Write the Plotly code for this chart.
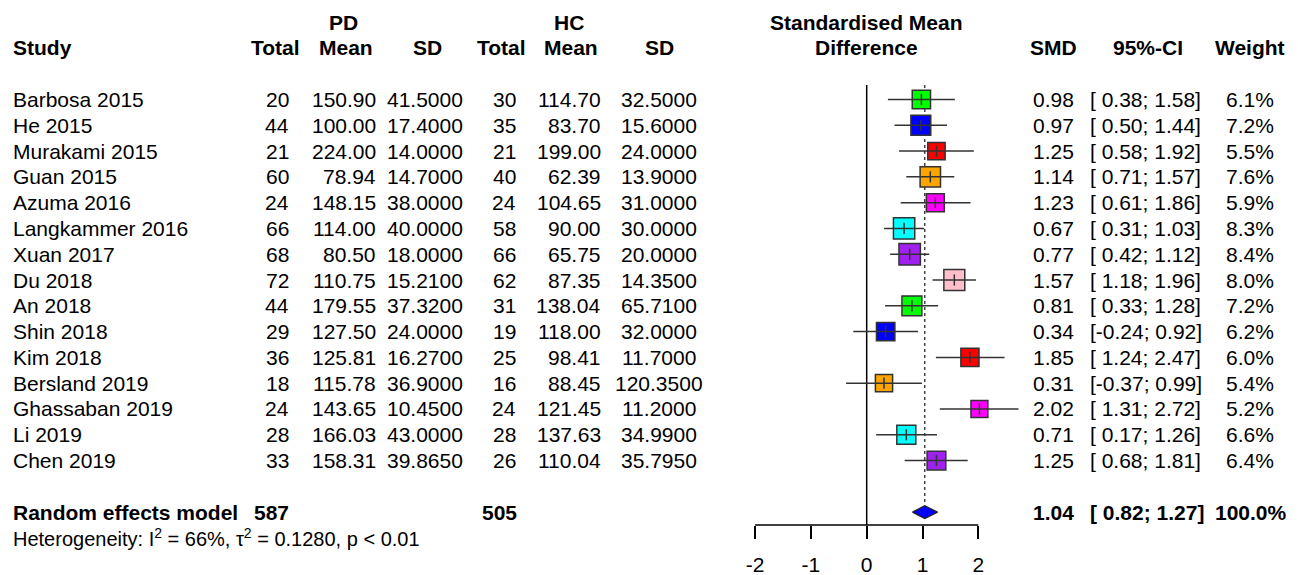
import plotly.graph_objects as go
import math

# ---------------- data ----------------
studies = ["Barbosa 2015", "He 2015", "Murakami 2015", "Guan 2015", "Azuma 2016",
           "Langkammer 2016", "Xuan 2017", "Du 2018", "An 2018", "Shin 2018",
           "Kim 2018", "Bersland 2019", "Ghassaban 2019", "Li 2019", "Chen 2019"]
pd_total = [20, 44, 21, 60, 24, 66, 68, 72, 44, 29, 36, 18, 24, 28, 33]
pd_mean = [150.90, 100.00, 224.00, 78.94, 148.15, 114.00, 80.50, 110.75, 179.55,
           127.50, 125.81, 115.78, 143.65, 166.03, 158.31]
pd_sd = [41.5, 17.4, 14.0, 14.7, 38.0, 40.0, 18.0, 15.21, 37.32, 24.0, 16.27,
         36.9, 10.45, 43.0, 39.865]
hc_total = [30, 35, 21, 40, 24, 58, 66, 62, 31, 19, 25, 16, 24, 28, 26]
hc_mean = [114.70, 83.70, 199.00, 62.39, 104.65, 90.00, 65.75, 87.35, 138.04,
           118.00, 98.41, 88.45, 121.45, 137.63, 110.04]
hc_sd = [32.5, 15.6, 24.0, 13.9, 31.0, 30.0, 20.0, 14.35, 65.71, 32.0, 11.7,
         120.35, 11.2, 34.99, 35.795]
smd = [0.98, 0.97, 1.25, 1.14, 1.23, 0.67, 0.77, 1.57, 0.81, 0.34, 1.85, 0.31,
       2.02, 0.71, 1.25]
ci_lo = [0.38, 0.50, 0.58, 0.71, 0.61, 0.31, 0.42, 1.18, 0.33, -0.24, 1.24,
         -0.37, 1.31, 0.17, 0.68]
ci_hi = [1.58, 1.44, 1.92, 1.57, 1.86, 1.03, 1.12, 1.96, 1.28, 0.92, 2.47, 0.99,
         2.72, 1.26, 1.81]
weight = [6.1, 7.2, 5.5, 7.6, 5.9, 8.3, 8.4, 8.0, 7.2, 6.2, 6.0, 5.4, 5.2, 6.6, 6.4]
box_colors = ["#00FF00", "#0000FF", "#FF0000", "#FFA500", "#FF00FF", "#00FFFF",
              "#A020F0", "#FFC0CB", "#00FF00", "#0000FF", "#FF0000", "#FFA500",
              "#FF00FF", "#00FFFF", "#A020F0"]

pooled_label = "Random effects model"
pooled_pd_total = 587
pooled_hc_total = 505
pooled_smd = 1.04
pooled_lo = 0.82
pooled_hi = 1.27
pooled_weight = 100.0
heterogeneity = "Heterogeneity: I<sup>2</sup> = 66%, \u03c4<sup>2</sup> = 0.1280, p < 0.01"

tick_vals = [-2, -1, 0, 1, 2]
tick_text = ["-2", "-1", "0", "1", "2"]

# ---------------- layout geometry ----------------
W, H = 1298, 575
FONT = "Liberation Sans, Arial, Helvetica, sans-serif"
FS = 21
x0_px, px_per_unit = 866.7, 55.8          # px position of SMD=0, px per unit
row0_px, row_px = 99.5, 25.79             # px of first study row, row spacing
axis_px = 525                             # px of the x axis line
x_range = [-x0_px / px_per_unit, (W - x0_px) / px_per_unit]
y_range = [(H - row0_px) / row_px, -row0_px / row_px]
axis_pos = (H - axis_px) / H              # paper y of the x axis line
axis_row = (axis_px - row0_px) / row_px

n = len(studies)
rows = list(range(n))
pooled_row = n + 1
het_row = n + 2


def px(xp):
    return xp / W


fig = go.Figure()

# reference lines
fig.add_trace(go.Scatter(x=[0, 0], y=[-0.56, axis_row],
                         mode="lines", line=dict(color="black", width=1.5),
                         hoverinfo="skip", showlegend=False))
fig.add_trace(go.Scatter(x=[pooled_smd, pooled_smd], y=[-0.56, pooled_row - 0.27],
                         mode="lines", line=dict(color="#444444", width=1.5, dash="dot"),
                         hoverinfo="skip", showlegend=False))

# boxes
fig.add_trace(go.Scatter(
    x=smd, y=rows, mode="markers",
    marker=dict(symbol="square", size=[7.4 * math.sqrt(w) for w in weight],
                color=box_colors, opacity=1, line=dict(color="#333333", width=1.5)),
    hoverinfo="skip", showlegend=False))

# confidence intervals
ci_x, ci_y = [], []
for lo, hi, r in zip(ci_lo, ci_hi, rows):
    ci_x += [lo, hi, None]
    ci_y += [r, r, None]
fig.add_trace(go.Scatter(x=ci_x, y=ci_y, mode="lines",
                         line=dict(color="#333333", width=1.5),
                         hoverinfo="skip", showlegend=False))
fig.add_trace(go.Scatter(x=smd, y=rows, mode="markers",
                         marker=dict(symbol="line-ns", size=8, opacity=1,
                                     line=dict(color="#333333", width=1.5)),
                         hoverinfo="skip", showlegend=False))

# diamond
dh = 0.25
fig.add_trace(go.Scatter(
    x=[pooled_lo, pooled_smd, pooled_hi, pooled_smd, pooled_lo],
    y=[pooled_row, pooled_row - dh, pooled_row, pooled_row + dh, pooled_row],
    mode="lines", fill="toself", fillcolor="#0000FF",
    line=dict(color="#222222", width=1.2), hoverinfo="skip", showlegend=False))

# ---------------- text ----------------
ann = []


def txt(x, y, s, anchor="center", bold=False, size=FS, xref="paper"):
    ann.append(dict(x=x, y=y, xref=xref, yref="y", text=("<b>%s</b>" % s) if bold else s,
                    showarrow=False, xanchor=anchor, yanchor="middle",
                    font=dict(family=FONT, size=size, color="black")))


# headers
txt(px(343), -3, "PD", bold=True)
txt(px(569), -3, "HC", bold=True)
txt(0, -3, "Standardised Mean", bold=True, xref="x")
txt(px(11), -2, "Study", anchor="left", bold=True)
txt(px(302), -2, "Total", anchor="right", bold=True)
txt(px(345.5), -2, "Mean", bold=True)
txt(px(427), -2, "SD", bold=True)
txt(px(527.5), -2, "Total", anchor="right", bold=True)
txt(px(571), -2, "Mean", bold=True)
txt(px(659), -2, "SD", bold=True)
txt(0, -2, "Difference", bold=True, xref="x")
txt(px(1053), -2, "SMD", bold=True)
txt(px(1148), -2, "95%-CI", bold=True)
txt(px(1250), -2, "Weight", bold=True)

for i in rows:
    txt(px(11), i, studies[i], anchor="left")
    txt(px(291), i, "%d" % pd_total[i], anchor="right")
    txt(px(377.5), i, "%.2f" % pd_mean[i], anchor="right")
    txt(px(425), i, "%.4f" % pd_sd[i])
    txt(px(517.5), i, "%d" % hc_total[i], anchor="right")
    txt(px(602.5), i, "%.2f" % hc_mean[i], anchor="right")
    txt(px(659), i, "%.4f" % hc_sd[i])
    txt(px(1053), i, "%.2f" % smd[i])
    txt(px(1088), i, "[%5.2f; %4.2f]" % (ci_lo[i], ci_hi[i]), anchor="left")
    txt(px(1250), i, "%.1f%%" % weight[i])

txt(px(11), pooled_row, pooled_label, anchor="left", bold=True)
txt(px(291), pooled_row, "%d" % pooled_pd_total, anchor="right", bold=True)
txt(px(518.5), pooled_row, "%d" % pooled_hc_total, anchor="right", bold=True)
txt(px(1053), pooled_row, "%.2f" % pooled_smd, bold=True)
txt(px(1088), pooled_row, "[%5.2f; %4.2f]" % (pooled_lo, pooled_hi), anchor="left", bold=True)
txt(px(1251), pooled_row, "%.1f%%" % pooled_weight, bold=True)
txt(px(11), het_row, heterogeneity, anchor="left", size=20)

# axis line from first to last tick
shapes = [dict(type="line", xref="x", yref="paper", x0=min(tick_vals), x1=max(tick_vals),
               y0=axis_pos, y1=axis_pos, line=dict(color="black", width=1.5))]

fig.update_layout(
    width=W, height=H, margin=dict(l=0, r=0, t=0, b=0),
    paper_bgcolor="white", plot_bgcolor="white",
    annotations=ann, shapes=shapes,
    xaxis=dict(range=x_range, domain=[0, 1], anchor="free", position=axis_pos,
               showline=False, showgrid=False, zeroline=False,
               tickmode="array", tickvals=tick_vals, ticktext=tick_text,
               ticks="outside", ticklen=13, tickwidth=1.5, tickcolor="black",
               tickfont=dict(family=FONT, size=FS, color="black"),
               ticklabelstandoff=8, fixedrange=True),
    yaxis=dict(range=y_range, domain=[0, 1], visible=False, fixedrange=True),
)

fig.write_html("out.html", config={"displayModeBar": False},
               post_script="document.body.style.margin='0';document.body.style.overflow='hidden';")
